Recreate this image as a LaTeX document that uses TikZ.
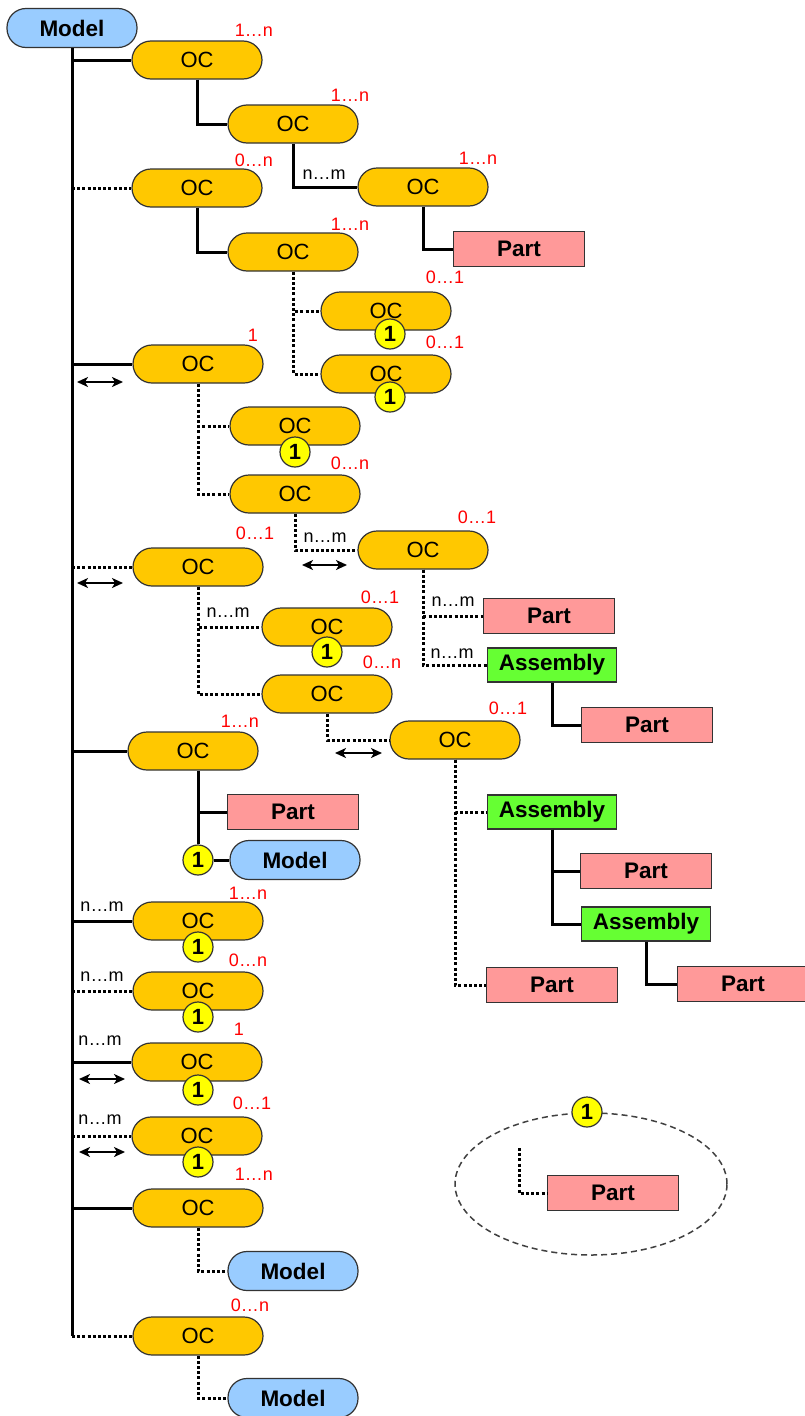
\documentclass[tikz,border=0pt]{standalone}
\usepackage{fontspec}
\setmainfont{Liberation Sans}
\usetikzlibrary{shapes,positioning,arrows.meta}
\usepackage{xcolor}
\definecolor{ocfill}{HTML}{FFC800}
\definecolor{modelfill}{HTML}{99CCFF}
\definecolor{partfill}{HTML}{FF9999}
\definecolor{asmfill}{HTML}{66FF33}
\definecolor{badgefill}{HTML}{FFFF00}

\begin{document}
\begin{tikzpicture}[x=1pt,y=-1pt,
    ocnode/.style={draw=black!80, line width=1.2pt, fill=ocfill, rounded corners=19pt, minimum width=130pt, minimum height=38pt, inner sep=0pt, font=\fontsize{22}{24}\selectfont},
    modelnode/.style={ocnode, fill=modelfill, minimum height=39pt, font=\fontsize{22.5}{24}\selectfont\bfseries},
    partnode/.style={draw=black!80, line width=1.2pt, fill=partfill, minimum width=131pt, minimum height=35pt, inner sep=0pt, font=\fontsize{22.5}{24}\selectfont\bfseries},
    asmnode/.style={partnode, fill=asmfill, minimum width=129pt, minimum height=34pt},
    badge/.style={circle, draw=black!80, line width=1.2pt, fill=badgefill, minimum size=30pt, inner sep=0pt, font=\fontsize{22}{24}\selectfont\bfseries},
    mult/.style={text=red, inner sep=0pt, font=\fontsize{18}{20}\selectfont},
    card/.style={text=black, inner sep=0pt, font=\fontsize{18}{20}\selectfont},
    solidline/.style={line width=3pt},
    dotline/.style={line width=3pt, dash pattern=on 3pt off 2.2pt},
    dblarrow/.style={line width=1.8pt, {Stealth[length=11pt,width=10pt,inset=3pt]}-{Stealth[length=11pt,width=10pt,inset=3pt]}}]
    \useasboundingbox (0,0) rectangle (804,1416);
    % Draw root model
    \node[modelnode] (model0) at (72,28) {Model};
    % Draw OC nodes along the trunk
    \node[ocnode] (oc1) at (197,60) {OC};
    \node[ocnode] (oc3) at (197,188) {OC};
    \node[ocnode] (oc8) at (198,364) {OC};
    \node[ocnode] (oc12) at (198,567) {OC};
    \node[ocnode] (oc16) at (193,751) {OC};
    \node[ocnode] (oc17) at (198,921) {OC};
    \node[ocnode] (oc18) at (198,991) {OC};
    \node[ocnode] (oc19) at (197,1062) {OC};
    \node[ocnode] (oc20) at (197,1136) {OC};
    \node[ocnode] (oc21) at (198,1208) {OC};
    \node[ocnode] (oc22) at (198,1336) {OC};
    % Draw nested OC nodes
    \node[ocnode] (oc2) at (293,124) {OC};
    \node[ocnode] (oc4) at (293,252) {OC};
    \node[ocnode] (oc5) at (423,187) {OC};
    \node[ocnode] (oc6) at (386,311) {OC};
    \node[ocnode] (oc7) at (386,374) {OC};
    \node[ocnode] (oc9) at (295,426) {OC};
    \node[ocnode] (oc10) at (295,494) {OC};
    \node[ocnode] (oc11) at (423,550) {OC};
    \node[ocnode] (oc13) at (327,627) {OC};
    \node[ocnode] (oc14) at (327,694) {OC};
    \node[ocnode] (oc15) at (455,740) {OC};
    % Draw parts, assemblies and models
    \node[partnode] (part1) at (519,249) {Part};
    \node[partnode] (part2) at (549,616) {Part};
    \node[asmnode] (asm1) at (552,665) {Assembly};
    \node[partnode] (part3) at (647,725) {Part};
    \node[asmnode] (asm2) at (552,812) {Assembly};
    \node[partnode] (part4) at (646,871) {Part};
    \node[asmnode] (asm3) at (646,924) {Assembly};
    \node[partnode] (part5) at (743,984) {Part};
    \node[partnode] (part6) at (552,985) {Part};
    \node[partnode] (part7) at (293,812) {Part};
    \node[modelnode] (model1) at (295,860) {Model};
    \node[modelnode] (model2) at (293,1271) {Model};
    \node[modelnode] (model3) at (293,1398) {Model};
    % Draw trunk and its branches
    \draw[solidline] (model0.south) -- (model0.south |- oc22.west);
    \draw[solidline] (model0.south |- oc1.west) -- (oc1.west);
    \draw[dotline] (model0.south |- oc3.west) -- (oc3.west);
    \draw[solidline] (model0.south |- oc8.west) -- (oc8.west);
    \draw[dotline] (model0.south |- oc12.west) -- (oc12.west);
    \draw[solidline] (model0.south |- oc16.west) -- (oc16.west);
    \draw[solidline] (model0.south |- oc17.west) -- (oc17.west);
    \draw[dotline] (model0.south |- oc18.west) -- (oc18.west);
    \draw[solidline] (model0.south |- oc19.west) -- (oc19.west);
    \draw[dotline] (model0.south |- oc20.west) -- (oc20.west);
    \draw[solidline] (model0.south |- oc21.west) -- (oc21.west);
    \draw[dotline] (model0.south |- oc22.west) -- (oc22.west);
    % Draw nested connectors
    \draw[solidline] (oc1.south) |- (oc2.west);
    \draw[solidline] (oc2.south) |- (oc5.west);
    \draw[solidline] (oc5.south) |- (part1.west);
    \draw[solidline] (oc3.south) |- (oc4.west);
    \draw[dotline] (oc4.south) |- (oc6.west);
    \draw[dotline] (oc4.south) |- (oc7.west);
    \draw[dotline] (oc8.south) |- (oc9.west);
    \draw[dotline] (oc8.south) |- (oc10.west);
    \draw[dotline] (oc10.south) |- (oc11.west);
    \draw[dotline] (oc11.south) |- (part2.west);
    \draw[dotline] (oc11.south) |- (asm1.west);
    \draw[solidline] (asm1.south) |- (part3.west);
    \draw[dotline] (oc12.south) |- (oc13.west);
    \draw[dotline] (oc12.south) |- (oc14.west);
    \draw[dotline] (oc14.south) |- (oc15.west);
    \draw[dotline] (oc15.south) |- (asm2.west);
    \draw[dotline] (oc15.south) |- (part6.west);
    \draw[solidline] (asm2.south) |- (part4.west);
    \draw[solidline] (asm2.south) |- (asm3.west);
    \draw[solidline] (asm3.south) |- (part5.west);
    \draw[dotline] (oc21.south) |- (model2.west);
    \draw[dotline] (oc22.south) |- (model3.west);
    % Draw badges
    \node[badge] (b6) at (390,334) {1};
    \node[badge] (b7) at (390,397) {1};
    \node[badge] (b9) at (295,452) {1};
    \node[badge] (b13) at (327,652) {1};
    \node[badge] (b16) at (198,860) {1};
    \node[badge] (b17) at (198,947) {1};
    \node[badge] (b18) at (198,1017) {1};
    \node[badge] (b19) at (198,1090) {1};
    \node[badge] (b20) at (198,1162) {1};
    \draw[solidline] (b16 |- oc16.south) -- (b16.north);
    \draw[solidline] (b16 |- part7.west) -- (part7.west);
    \draw[solidline] (b16.east) -- (model1.west);
    % Multiplicities
    \node[mult] (m1) at (254,30) {1…n};
    \node[mult] (m2) at (350,95) {1…n};
    \node[mult] (m3) at (254,160) {0…n};
    \node[mult] (m4) at (350,224) {1…n};
    \node[mult] (m5) at (478,158) {1…n};
    \node[mult] (m6) at (445,277) {0…1};
    \node[mult] (m7) at (445,342) {0…1};
    \node[mult] (m8) at (253,335) {1};
    \node[mult] (m10) at (350,463) {0…n};
    \node[mult] (m11) at (477,517) {0…1};
    \node[mult] (m12) at (255,533) {0…1};
    \node[mult] (m13) at (380,597) {0…1};
    \node[mult] (m14) at (382,662) {0…n};
    \node[mult] (m15) at (508,708) {0…1};
    \node[mult] (m16) at (240,721) {1…n};
    \node[mult] (m17) at (248,893) {1…n};
    \node[mult] (m18) at (248,960) {0…n};
    \node[mult] (m19) at (239,1029) {1};
    \node[mult] (m20) at (252,1103) {0…1};
    \node[mult] (m21) at (254,1174) {1…n};
    \node[mult] (m22) at (250,1305) {0…n};
    % Cardinalities
    \node[card] (c5) at (324,175) {n…m};
    \node[card] (c11) at (325,538) {n…m};
    \node[card] (c13) at (228,613) {n…m};
    \node[card] (cp2) at (453,602) {n…m};
    \node[card] (ca1) at (452,654) {n…m};
    \node[card] (c17) at (102,907) {n…m};
    \node[card] (c18) at (102,977) {n…m};
    \node[card] (c19) at (100,1041) {n…m};
    \node[card] (c20) at (100,1120) {n…m};
    % Double arrows
    \draw[dblarrow] (77,382) -- (123,382);
    \draw[dblarrow] (77,583) -- (123,583);
    \draw[dblarrow] (302,565) -- (347,565);
    \draw[dblarrow] (335,753) -- (382,753);
    \draw[dblarrow] (79,1079) -- (125,1079);
    \draw[dblarrow] (79,1152) -- (125,1152);
    % Legend
    \draw[line width=1.5pt, black!75, dash pattern=on 6pt off 4pt] (591,1184) ellipse (136pt and 71pt);
    \node[partnode] (lgpart) at (613,1193) {Part};
    \coordinate (lgtop) at (519,1148);
    \draw[dotline] (lgtop) |- (lgpart.west);
    \node[badge] (lgbadge) at (587,1112) {1};
\end{tikzpicture}
\end{document}
